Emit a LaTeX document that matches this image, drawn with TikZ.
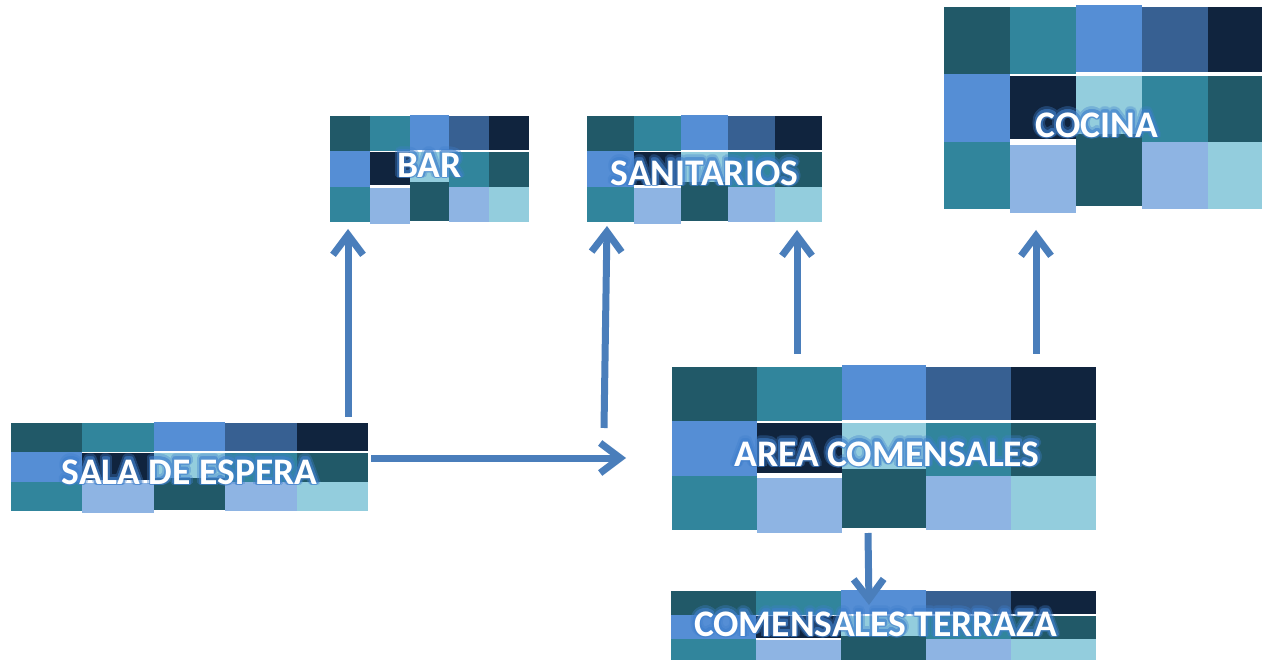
\documentclass[tikz,border=0pt]{standalone}
\usepackage{fontspec}
\setmainfont{Carlito}
\usepackage{contour}
\usetikzlibrary{arrows.meta,calc}

% tile palette
\definecolor{tdark}{HTML}{215968}
\definecolor{tteal}{HTML}{31859C}
\definecolor{tcorn}{HTML}{558ED5}
\definecolor{tsteel}{HTML}{376092}
\definecolor{tnavy}{HTML}{10243E}
\definecolor{tlight}{HTML}{93CDDD}
\definecolor{tperi}{HTML}{8EB4E3}
\definecolor{arrowblue}{HTML}{4A7EBB}
\definecolor{glowblue}{HTML}{3F7FCC}

\contournumber{24}

\tikzset{
  box/.style={inner sep=0pt, outer sep=0pt, draw=none},
  arr/.style={draw=arrowblue, line width=7pt,
    -{Straight Barb[length=20pt,width=30pt]}},
  lblfont/.style={font=\fontsize{37.5}{37.5}\selectfont\bfseries, inner sep=0pt},
  lbl/.style={lblfont, text=white},
  glow/.style={lblfont, text=glowblue},
}

% a 5x3 mosaic of coloured tiles: name, left, top, width, height
\newcommand\mosaic[5]{%
  \node[box, minimum width=#4pt, minimum height=#5pt, anchor=north west] (#1) at (#2,#3) {};
  \foreach \c/\r/\col/\ta/\tb in {
      0/0/tdark/0/0, 1/0/tteal/0/0, 2/0/tcorn/-0.03/-0.03, 3/0/tsteel/0/-0.03, 4/0/tnavy/0/-0.03,
      0/1/tcorn/0/0, 1/1/tnavy/0.03/-0.04, 2/1/tlight/0.03/-0.12, 3/1/tteal/0.03/0, 4/1/tdark/0.03/0,
      0/2/tteal/0/0, 1/2/tperi/0.05/0.06, 2/2/tdark/-0.12/-0.04, 3/2/tperi/0/0, 4/2/tlight/0/0}{
    \fill[\col] ($(#1.north west)+({\c*#4/5},{\r*#5/3+\ta*#5/3})$)
      rectangle ($(#1.north west)+({\c*#4/5+#4/5},{\r*#5/3+#5/3+\tb*#5/3})$);
  }%
}

% white room name with a soft blue glow (two translucent halo layers)
\newcommand\roomname[3]{%
  \begin{scope}[transparency group, opacity=0.35]
    \node[glow] (#1o) at #2 {\contourlength{3.6pt}\contour{glowblue}{#3}};
  \end{scope}
  \begin{scope}[transparency group, opacity=0.6]
    \node[glow] (#1i) at #2 {\contourlength{1.8pt}\contour{glowblue}{#3}};
  \end{scope}
  \node[lbl] (#1) at #2 {#3};
}

\begin{document}
\begin{tikzpicture}[x=1pt, y=-1pt]
  \useasboundingbox (0,0) rectangle (1262,660);
  \fill[white] (0,0) rectangle (1262,660);
  \begin{scope}
    \clip (0,0) rectangle (1262,660);

    % rooms
    \mosaic{cocina}{944}{7}{330}{202}
    \mosaic{bar}{330}{116}{199}{106}
    \mosaic{san}{587}{116}{235}{106}
    \mosaic{sala}{11}{423}{357}{88}
    \mosaic{area}{672}{367}{424}{163}
    \mosaic{terr}{671}{591}{425}{72}

    % circulation
    \draw[arr] ($(sala.north east)+(-20,-6)$) -- ($(bar.south west)+(18,7)$);
    \draw[arr] ($(sala.east)+(3,-9)$) -- ($(area.west)+(-46,9.5)$);
    \draw[arr] ($(area.north west)+(-68,61)$) -- ($(san.south west)+(20,4)$);
    \draw[arr] ($(area.north west)+(125,-13)$) -- ($(san.south east)+(-25,8)$);
    \draw[arr] ($(area.north east)+(-60,-13)$) -- ($(cocina.south west)+(92,21)$);
    \draw[arr] ($(area.south)+(-16,3)$) -- ($(terr.north)+(-14.5,14)$);

    % room names
    \roomname{cocinat}{($(cocina.center)+(-12,17)$)}{COCINA}
    \roomname{bart}{($(bar.center)+(0,-4)$)}{BAR}
    \roomname{sant}{($(san.center)+(0,4)$)}{SANITARIOS}
    \roomname{salat}{($(sala.center)+(0,5)$)}{SALA DE ESPERA}
    \roomname{areat}{($(area.center)+(3,5.5)$)}{AREA COMENSALES}
    \roomname{terrt}{($(terr.center)+(-8,-3)$)}{COMENSALES TERRAZA}
  \end{scope}
\end{tikzpicture}
\end{document}
